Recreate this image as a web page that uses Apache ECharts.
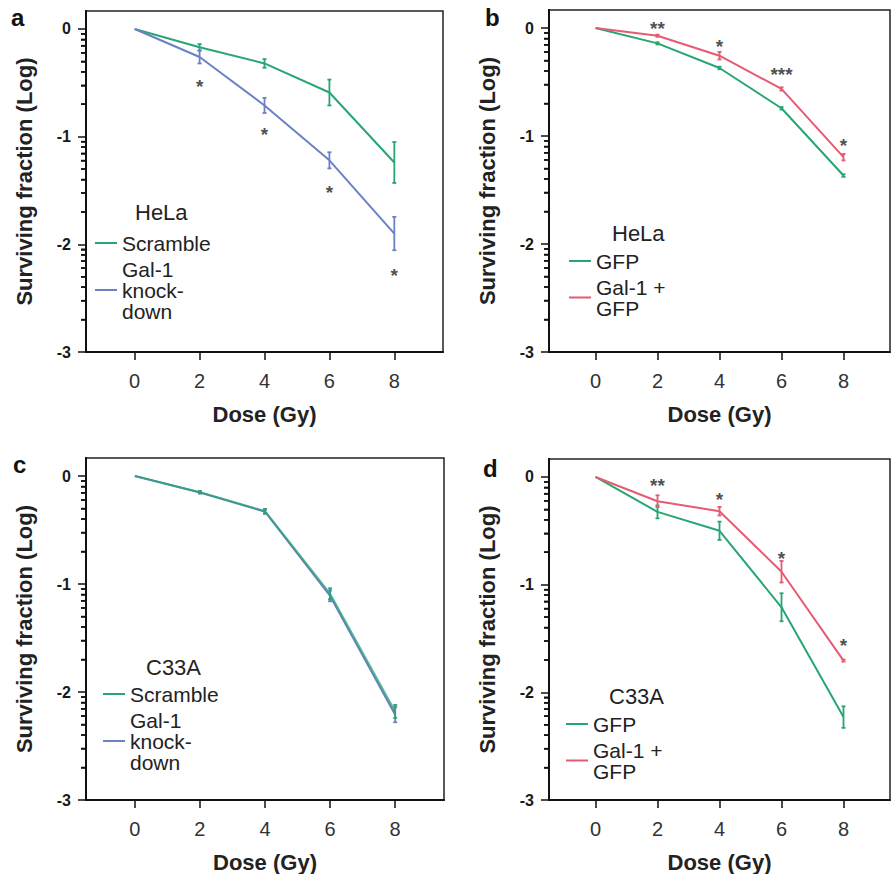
<!DOCTYPE html>
<html>
<head>
<meta charset="utf-8">
<script src="https://cdn.jsdelivr.net/npm/echarts@6/dist/echarts.min.js"></script>
<style>
html,body{margin:0;padding:0;background:#fff;}
#chart{width:893px;height:874px;}
</style>
</head>
<body>
<div id="chart"></div>
<script>
// ---- data ----
const doses = [0, 2, 4, 6, 8];
const xTicks = [0, 2, 4, 6, 8];
const yTicks = [-3, -2, -1, 0];
const starDoses = [2, 4, 6, 8];

// panel a (HeLa, knock-down)
const aScramble = [0, -0.17, -0.32, -0.59, -1.24];
const aScrambleErr = [0, 0.03, 0.04, 0.12, 0.19];
const aKnock = [0, -0.26, -0.71, -1.22, -1.90];
const aKnockErr = [0, 0.06, 0.07, 0.075, 0.155];
const aStarY = [-0.50, -0.94, -1.48, -2.25];
const aStarText = ['*', '*', '*', '*'];

// panel b (HeLa, overexpression)
const bGFP = [0, -0.142, -0.37, -0.743, -1.366];
const bGFPErr = [0, 0.01, 0.012, 0.012, 0.012];
const bGal = [0, -0.071, -0.256, -0.564, -1.196];
const bGalErr = [0, 0.01, 0.035, 0.015, 0.03];
const bStarY = [0.03, -0.13, -0.395, -1.05];
const bStarText = ['**', '*', '***', '*'];

// panel c (C33A, knock-down)
const cScramble = [0, -0.15, -0.325, -1.09, -2.18];
const cScrambleErr = [0, 0.01, 0.02, 0.05, 0.06];
const cKnock = [0, -0.152, -0.33, -1.11, -2.21];
const cKnockErr = [0, 0.01, 0.02, 0.05, 0.07];

// panel d (C33A, overexpression)
const dGFP = [0, -0.324, -0.50, -1.21, -2.23];
const dGFPErr = [0, 0.06, 0.085, 0.13, 0.10];
const dGal = [0, -0.225, -0.318, -0.88, -1.705];
const dGalErr = [0, 0.055, 0.04, 0.10, 0.01];
const dStarY = [-0.046, -0.17, -0.72, -1.53];
const dStarText = ['**', '*', '*', '*'];

const GREEN = '#27a672', BLUE = '#6c80c6', RED = '#e65a72';
const FONT = 'Liberation Sans';
const X_MIN = -1.5, X_MAX = 9.5, Y_MIN = -3, Y_MAX = 0.167;

// log-scale minor tick positions (axis decoration)
const yMinor = [];
[0, -1, -2].forEach(d => { for (let k = 2; k <= 9; k++) yMinor.push(d - 1 + Math.log10(k)); });

const panels = [
  { grid: {left: 86, top: 11, width: 357, height: 341}, letter: 'a', letterPos: [11, 5],
    cell: 'HeLa', cellPos: [135, 201], legendPos: [95, 232.5],
    series: [
      {name: 'Scramble', color: GREEN, y: aScramble, e: aScrambleErr},
      {name: 'Gal-1\nknock-\ndown', color: BLUE, y: aKnock, e: aKnockErr}],
    starY: aStarY, starText: aStarText },
  { grid: {left: 549, top: 10, width: 357, height: 342}, letter: 'b', letterPos: [485, 5],
    cell: 'HeLa', cellPos: [612, 222], legendPos: [569, 250.5],
    series: [
      {name: 'GFP', color: GREEN, y: bGFP, e: bGFPErr},
      {name: 'Gal-1 +\nGFP', color: RED, y: bGal, e: bGalErr}],
    starY: bStarY, starText: bStarText },
  { grid: {left: 86, top: 458, width: 358, height: 342}, letter: 'c', letterPos: [13, 452],
    cell: 'C33A', cellPos: [146, 656], legendPos: [103, 683.5],
    series: [
      {name: 'Gal-1\nknock-\ndown', color: BLUE, y: cKnock, e: cKnockErr},
      {name: 'Scramble', color: GREEN, y: cScramble, e: cScrambleErr, opacity: 0.75}],
    legendOrder: ['Scramble', 'Gal-1\nknock-\ndown'],
    starY: null, starText: null },
  { grid: {left: 549, top: 459, width: 357, height: 341}, letter: 'd', letterPos: [483, 456],
    cell: 'C33A', cellPos: [609, 685], legendPos: [566, 713.5],
    series: [
      {name: 'GFP', color: GREEN, y: dGFP, e: dGFPErr},
      {name: 'Gal-1 +\nGFP', color: RED, y: dGal, e: dGalErr}],
    starY: dStarY, starText: dStarText }
];

const option = {
  animation: false,
  grid: [], xAxis: [], yAxis: [], series: [], legend: [], title: []
};

panels.forEach((p, i) => {
  option.grid.push(Object.assign({show: true, borderColor: '#222', borderWidth: 1.5, containLabel: false}, p.grid));
  option.xAxis.push({
    gridIndex: i, type: 'value', min: X_MIN, max: X_MAX, interval: 0.5,
    axisLine: {show: true, onZero: false, lineStyle: {color: '#111', width: 2}},
    axisTick: {show: true, length: 8, lineStyle: {color: '#111', width: 1.5}, customValues: xTicks},
    axisLabel: {
      show: true, fontSize: 20, color: '#333', margin: 19, fontFamily: FONT,
      formatter: v => (xTicks.indexOf(Math.round(v * 100) / 100) >= 0 ? String(Math.round(v)) : '')
    },
    splitLine: {show: false},
    name: 'Dose (Gy)', nameLocation: 'middle', nameGap: 51,
    nameTextStyle: {fontSize: 22, fontWeight: 'bold', color: '#222', fontFamily: FONT}
  });
  const yMain = option.yAxis.length;
  option.yAxis.push({
    gridIndex: i, type: 'value', min: Y_MIN, max: Y_MAX, interval: 1, position: 'left',
    axisLine: {show: true, onZero: false, lineStyle: {color: '#111', width: 2}},
    axisTick: {show: true, length: 8, lineStyle: {color: '#111', width: 1.5}, customValues: yTicks},
    axisLabel: {
      show: true, fontSize: 16, fontWeight: 'bold', color: '#1a1a1a', margin: 15, fontFamily: FONT,
      formatter: v => (yTicks.indexOf(Math.round(v * 1000) / 1000) >= 0 ? String(Math.round(v)) : ''),
      showMaxLabel: false
    },
    splitLine: {show: false},
    name: 'Surviving fraction (Log)', nameLocation: 'middle', nameGap: 51,
    nameTextStyle: {fontSize: 22, fontWeight: 'bold', color: '#222', fontFamily: FONT}
  });
  // second (decorative) y axis carrying the log-spaced minor ticks
  option.yAxis.push({
    gridIndex: i, type: 'value', min: Y_MIN, max: Y_MAX, position: 'left', offset: 0,
    axisLine: {show: true, onZero: false, lineStyle: {color: '#111', width: 2}},
    axisTick: {show: true, length: 5, lineStyle: {color: '#111', width: 1.5}, customValues: yMinor},
    axisLabel: {show: false}, splitLine: {show: false}
  });

  // same minor ticks, also drawn through the axis scale as a safety net
  option.series.push({
    type: 'custom', name: 'minor' + i, xAxisIndex: i, yAxisIndex: yMain, clip: false, silent: true,
    data: yMinor.map(v => [X_MIN, v]), encode: {x: 0, y: 1}, z: 6,
    renderItem: function (params, api) {
      const c = api.coord([X_MIN, api.value(1)]);
      return {type: 'line', shape: {x1: c[0] - 5, y1: c[1], x2: c[0], y2: c[1]},
        style: {stroke: '#111', lineWidth: 1.5}};
    }
  });

  p.series.forEach(s => {
    option.series.push({
      type: 'line', name: s.name, xAxisIndex: i, yAxisIndex: yMain,
      data: doses.map((d, k) => [d, s.y[k]]),
      showSymbol: false, symbol: 'none', color: s.color,
      lineStyle: {color: s.color, width: 2, opacity: s.opacity || 1}, z: 3
    });
    option.series.push({
      type: 'custom', name: s.name + '_err', xAxisIndex: i, yAxisIndex: yMain,
      data: doses.map((d, k) => [d, s.y[k], s.e[k]]),
      encode: {x: 0, y: 1}, z: 4,
      renderItem: function (params, api) {
        const x = api.value(0), y = api.value(1), e = api.value(2);
        if (!e) return null;
        const t = api.coord([x, y + e]), b = api.coord([x, y - e]);
        const hw = 2;
        const st = {stroke: s.color, lineWidth: 1.8};
        return {type: 'group', children: [
          {type: 'line', shape: {x1: t[0], y1: t[1], x2: b[0], y2: b[1]}, style: st},
          {type: 'line', shape: {x1: t[0] - hw, y1: t[1], x2: t[0] + hw, y2: t[1]}, style: st},
          {type: 'line', shape: {x1: b[0] - hw, y1: b[1], x2: b[0] + hw, y2: b[1]}, style: st}
        ]};
      }
    });
  });

  if (p.starY) {
    option.series.push({
      type: 'scatter', name: 'sig' + i, xAxisIndex: i, yAxisIndex: yMain,
      data: starDoses.map((d, k) => [d, p.starY[k], p.starText[k]]),
      symbolSize: 0, z: 5,
      label: {show: true, position: 'inside', offset: [0, 4], formatter: q => q.value[2],
        fontSize: 19, fontWeight: 'bold', color: '#222', fontFamily: FONT}
    });
  }

  option.legend.push({
    orient: 'vertical', left: p.legendPos[0], top: p.legendPos[1], padding: 0,
    itemGap: 5, itemWidth: 22, itemHeight: 2, icon: 'rect', selectedMode: false,
    data: p.legendOrder || p.series.map(s => s.name),
    textStyle: {fontSize: 21, lineHeight: 21, color: '#222', fontFamily: FONT}
  });
  option.title.push({
    text: p.cell, left: p.cellPos[0], top: p.cellPos[1], padding: 0,
    textStyle: {fontSize: 22, fontWeight: 'normal', color: '#222', fontFamily: FONT}
  });
  option.title.push({
    text: p.letter, left: p.letterPos[0], top: p.letterPos[1], padding: 0,
    textStyle: {fontSize: 24, fontWeight: 'bold', color: '#111', fontFamily: FONT}
  });
});

const chart = echarts.init(document.getElementById('chart'), null, {renderer: 'svg'});
chart.setOption(option);
</script>
</body>
</html>
